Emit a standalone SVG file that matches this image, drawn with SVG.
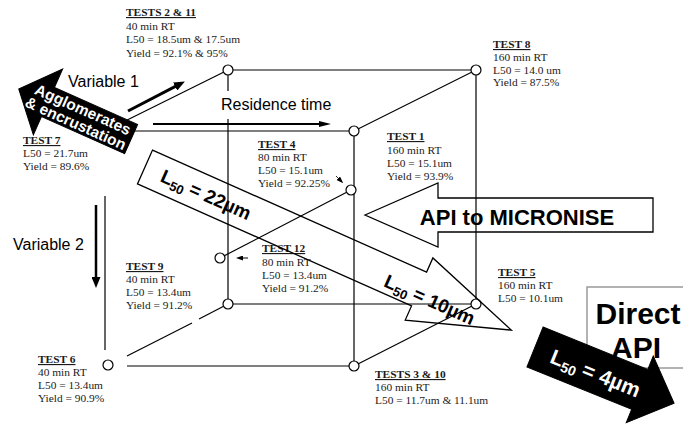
<svg xmlns="http://www.w3.org/2000/svg" width="683" height="428" viewBox="0 0 683 428">
  <defs>
    <style>
      .edge{stroke:#000;stroke-width:1.2;fill:none}
      .node{fill:#fff;stroke:#000;stroke-width:1.2}
      .lbl{font-family:"Liberation Serif","Times New Roman",serif;font-size:11.4px;fill:#1a1a1a}
      .hd{font-weight:bold;text-decoration:underline}
      .sans{font-family:"Liberation Sans",Arial,sans-serif;fill:#000}
      .big{font-family:"Liberation Sans",Arial,sans-serif;font-weight:bold}
      .outline{fill:none;stroke:#000;stroke-width:1.3}
      .solid{fill:#000;stroke:#000;stroke-width:1}
    </style>
    <marker id="headL" markerUnits="userSpaceOnUse" markerWidth="11" markerHeight="9" refX="2" refY="4.5" orient="auto" viewBox="0 0 11 9">
      <path d="M0,0 L11,4.5 L0,9 z" fill="#000"/>
    </marker>
    <marker id="headM" markerUnits="userSpaceOnUse" markerWidth="12" markerHeight="6" refX="2" refY="3" orient="auto" viewBox="0 0 12 6">
      <path d="M0,0 L12,3 L0,6 z" fill="#000"/>
    </marker>
    <marker id="headS" markerUnits="userSpaceOnUse" markerWidth="7" markerHeight="5" refX="1" refY="2.5" orient="auto" viewBox="0 0 7 5">
      <path d="M0,0 L7,2.5 L0,5 z" fill="#000"/>
    </marker>
  </defs>

  <!-- cube edges -->
  <g id="connectors">
    <line class="edge" x1="228" y1="70" x2="476" y2="70"/>
    <line class="edge" x1="476" y1="70" x2="476" y2="304"/>
    <line class="edge" x1="228" y1="70" x2="228" y2="91"/>
    <line class="edge" x1="228" y1="119" x2="228" y2="304"/>
    <line class="edge" x1="228" y1="304" x2="476" y2="304"/>
    <line class="edge" x1="105" y1="131" x2="354" y2="131"/>
    <line class="edge" x1="354" y1="131" x2="354" y2="366"/>
    <line class="edge" x1="105" y1="196" x2="105" y2="350"/>
    <line class="edge" x1="127" y1="366" x2="354" y2="366"/>
    <line class="edge" x1="228" y1="70" x2="105" y2="131"/>
    <line class="edge" x1="476" y1="70" x2="354" y2="131"/>
    <line class="edge" x1="476" y1="304" x2="354" y2="366"/>
    <line class="edge" x1="228" y1="304" x2="199" y2="319"/>
    <line class="edge" x1="192" y1="323" x2="127" y2="356"/>
    <line class="edge" x1="351" y1="190" x2="220" y2="258"/>
    <!-- pointers to the mid-point nodes -->
    <line x1="336" y1="176" x2="339" y2="179" stroke="#000" stroke-width="0.8" marker-end="url(#headS)"/>
    <line x1="248" y1="258" x2="242" y2="258" stroke="#000" stroke-width="1" marker-end="url(#headS)"/>
  </g>

  <!-- nodes -->
  <g id="test-2-11"><circle class="node" cx="228" cy="70" r="5"/>
    <text class="lbl" x="126" y="16"><tspan class="hd">TESTS 2 &amp; 11</tspan></text>
    <text class="lbl" x="126" y="29.5">40 min RT</text>
    <text class="lbl" x="126" y="43">L50 = 18.5um &amp; 17.5um</text>
    <text class="lbl" x="126" y="56.5">Yield = 92.1% &amp; 95%</text>
  </g>
  <g id="test-8"><circle class="node" cx="476" cy="70" r="5"/>
    <text class="lbl" x="493" y="48"><tspan class="hd">TEST 8</tspan></text>
    <text class="lbl" x="493" y="61">160 min RT</text>
    <text class="lbl" x="493" y="74">L50 = 14.0 um</text>
    <text class="lbl" x="493" y="86">Yield = 87.5%</text>
  </g>
  <g id="test-7">
    <text class="lbl" x="23" y="144"><tspan class="hd">TEST 7</tspan></text>
    <text class="lbl" x="23" y="157">L50 = 21.7um</text>
    <text class="lbl" x="23" y="170">Yield = 89.6%</text>
  </g>
  <g id="test-1"><circle class="node" cx="354" cy="131" r="5"/>
    <text class="lbl" x="387" y="140"><tspan class="hd">TEST 1</tspan></text>
    <text class="lbl" x="387" y="154">160 min RT</text>
    <text class="lbl" x="387" y="167">L50 = 15.1um</text>
    <text class="lbl" x="387" y="180">Yield = 93.9%</text>
  </g>
  <g id="test-4"><circle class="node" cx="351" cy="190" r="5"/>
    <text class="lbl" x="258" y="148"><tspan class="hd">TEST 4</tspan></text>
    <text class="lbl" x="258" y="161">80 min RT</text>
    <text class="lbl" x="258" y="174">L50 = 15.1um</text>
    <text class="lbl" x="258" y="187">Yield = 92.25%</text>
  </g>
  <g id="test-9-12"><circle class="node" cx="220" cy="258" r="5"/>
    <text class="lbl" x="262" y="252"><tspan class="hd">TEST 12</tspan></text>
    <text class="lbl" x="262" y="265.5">80 min RT</text>
    <text class="lbl" x="262" y="278.5">L50 = 13.4um</text>
    <text class="lbl" x="262" y="292">Yield = 91.2%</text>
  </g>
  <g id="test-9"><circle class="node" cx="228" cy="304" r="5"/>
    <text class="lbl" x="126" y="270"><tspan class="hd">TEST 9</tspan></text>
    <text class="lbl" x="126" y="283">40 min RT</text>
    <text class="lbl" x="126" y="296">L50 = 13.4um</text>
    <text class="lbl" x="126" y="309">Yield = 91.2%</text>
  </g>
  <g id="test-5"><circle class="node" cx="476" cy="304" r="5"/>
    <text class="lbl" x="498" y="276"><tspan class="hd">TEST 5</tspan></text>
    <text class="lbl" x="498" y="289">160 min RT</text>
    <text class="lbl" x="498" y="302">L50 = 10.1um</text>
  </g>
  <g id="test-6"><circle class="node" cx="108" cy="365" r="5"/>
    <text class="lbl" x="38" y="363"><tspan class="hd">TEST 6</tspan></text>
    <text class="lbl" x="38" y="376">40 min RT</text>
    <text class="lbl" x="38" y="389">L50 = 13.4um</text>
    <text class="lbl" x="38" y="402">Yield = 90.9%</text>
  </g>
  <g id="test-3-10"><circle class="node" cx="354" cy="366" r="5"/>
    <text class="lbl" x="375" y="378"><tspan class="hd">TESTS 3 &amp; 10</tspan></text>
    <text class="lbl" x="375" y="391">160 min RT</text>
    <text class="lbl" x="375" y="404">L50 = 11.7um &amp; 11.1um</text>
  </g>

  <!-- axis arrows -->
  <g id="axes">
    <line x1="128" y1="111" x2="176.9" y2="85.7" stroke="#000" stroke-width="3" marker-end="url(#headL)"/>
    <text class="sans" x="68" y="87" font-size="16">Variable 1</text>
    <line x1="153" y1="124" x2="321" y2="124" stroke="#000" stroke-width="2" marker-end="url(#headM)"/>
    <text class="sans" x="221" y="110" font-size="16">Residence time</text>
    <line x1="96" y1="205" x2="96" y2="279" stroke="#000" stroke-width="2.5" marker-end="url(#headL)"/>
    <text class="sans" x="13" y="250" font-size="16">Variable 2</text>
  </g>

  <!-- particle size arrow -->
  <g id="size-arrow" transform="translate(145,167) rotate(24)">
    <polygon class="outline" points="0,-18.5 300,-18.5 300,-34 401,0 300,34 300,18.5 0,18.5"/>
    <text class="big" x="67" y="7" font-size="19" text-anchor="middle">L<tspan font-size="13" dy="4">50</tspan><tspan dy="-4"> = 22µm</tspan></text>
    <text class="big" x="314" y="12" font-size="19" text-anchor="middle">L<tspan font-size="13" dy="4">50</tspan><tspan dy="-4"> = 10µm</tspan></text>
  </g>

  <!-- input arrow -->
  <g id="api-micronise">
    <polygon class="outline" points="365,215 438,183 438,198 653,198 653,232 438,232 438,247"/>
    <text class="big" x="517" y="225" font-size="22" text-anchor="middle">API to MICRONISE</text>
  </g>

  <g id="direct-api">
    <rect x="587" y="287" width="110" height="81" fill="#fff" stroke="#999" stroke-width="1.5"/>
    <text class="big" x="638" y="324" font-size="30" text-anchor="middle">Direct</text>
    <text class="big" x="636" y="358" font-size="30" text-anchor="middle">API</text>
  </g>

  <g id="fine-arrow" transform="translate(535,347) rotate(22)">
    <polygon class="solid" points="0,-21.5 113,-21.5 113,-36 150,0 113,36 113,21.5 0,21.5"/>
    <text class="big" x="66" y="9" font-size="21" fill="#fff" text-anchor="middle">L<tspan font-size="14" dy="4">50</tspan><tspan dy="-4"> = 4µm</tspan></text>
  </g>

  <g id="agglomerates" transform="translate(48,102) rotate(24)">
    <polygon class="solid" points="-32,0 0,-36 0,-16 91,-16 91,16 0,16 0,36"/>
    <text class="big" x="35" y="-2" font-size="15.5" fill="#fff" text-anchor="middle">Agglomerates</text>
    <text class="big" x="34" y="13.5" font-size="15.5" fill="#fff" text-anchor="middle">&amp; encrustation</text>
  </g>
</svg>
